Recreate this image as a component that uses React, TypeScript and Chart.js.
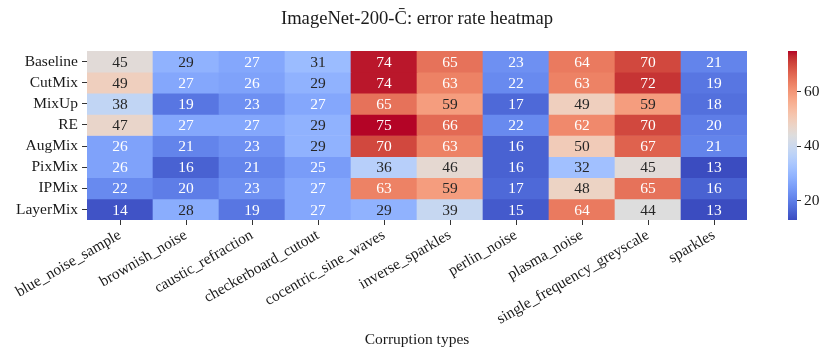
import React, { useEffect, useRef } from 'react';
import { Chart, registerables } from 'chart.js';

Chart.register(...registerables);

const FONT = "'Liberation Serif', 'Times New Roman', serif";

const chartTitle = 'ImageNet-200-C\u0304: error rate heatmap';
const xAxisTitle = 'Corruption types';

const rows = ['Baseline', 'CutMix', 'MixUp', 'RE', 'AugMix', 'PixMix', 'IPMix', 'LayerMix'];
const cols = [
  'blue_noise_sample',
  'brownish_noise',
  'caustic_refraction',
  'checkerboard_cutout',
  'cocentric_sine_waves',
  'inverse_sparkles',
  'perlin_noise',
  'plasma_noise',
  'single_frequency_greyscale',
  'sparkles',
];

const baselineErr = [45, 29, 27, 31, 74, 65, 23, 64, 70, 21];
const cutmixErr = [49, 27, 26, 29, 74, 63, 22, 63, 72, 19];
const mixupErr = [38, 19, 23, 27, 65, 59, 17, 49, 59, 18];
const reErr = [47, 27, 27, 29, 75, 66, 22, 62, 70, 20];
const augmixErr = [26, 21, 23, 29, 70, 63, 16, 50, 67, 21];
const pixmixErr = [26, 16, 21, 25, 36, 46, 16, 32, 45, 13];
const ipmixErr = [22, 20, 23, 27, 63, 59, 17, 48, 65, 16];
const layermixErr = [14, 28, 19, 27, 29, 39, 15, 64, 44, 13];

const values = [baselineErr, cutmixErr, mixupErr, reErr, augmixErr, pixmixErr, ipmixErr, layermixErr];

const colorbarTicks = [20, 40, 60];

// coolwarm colormap control points (33 samples)
const COOLWARM: number[][] = [
  [59, 76, 192], [68, 90, 204], [77, 104, 215], [87, 117, 225], [98, 130, 234],
  [108, 142, 241], [119, 154, 247], [130, 165, 251], [141, 176, 254], [152, 185, 255],
  [163, 194, 255], [174, 201, 253], [184, 208, 249], [194, 213, 244], [204, 217, 238],
  [213, 219, 230], [221, 221, 221], [229, 216, 209], [236, 211, 197], [241, 204, 185],
  [245, 196, 173], [247, 187, 160], [247, 177, 148], [247, 166, 135], [244, 154, 123],
  [241, 141, 111], [236, 127, 99], [229, 112, 88], [222, 96, 77], [213, 80, 66],
  [203, 62, 56], [192, 40, 47], [180, 4, 38],
];

const allVals = values.flat();
const vmin = Math.min(...allVals);
const vmax = Math.max(...allVals);

function cmap(t: number): number[] {
  const tt = Math.max(0, Math.min(1, t)) * (COOLWARM.length - 1);
  const i = Math.min(Math.floor(tt), COOLWARM.length - 2);
  const f = tt - i;
  const a = COOLWARM[i];
  const b = COOLWARM[i + 1];
  return [0, 1, 2].map((k) => a[k] + (b[k] - a[k]) * f);
}

function rgbStr(c: number[]) {
  return `rgb(${Math.round(c[0])},${Math.round(c[1])},${Math.round(c[2])})`;
}

function valueColor(v: number) {
  return cmap((v - vmin) / (vmax - vmin));
}

function luminance(c: number[]) {
  const lin = c.map((x) => {
    const s = x / 255;
    return s <= 0.03928 ? s / 12.92 : Math.pow((s + 0.055) / 1.055, 2.4);
  });
  return 0.2126 * lin[0] + 0.7152 * lin[1] + 0.0722 * lin[2];
}

const TEXT = '#1a1a1a';
const TICK = '#333333';

const annotPlugin = {
  id: 'cellAnnot',
  afterDatasetsDraw(chart: any) {
    const { ctx, scales } = chart;
    const x = scales.x;
    const y = scales.y;
    ctx.save();
    ctx.font = `15.5px ${FONT}`;
    ctx.textAlign = 'center';
    ctx.textBaseline = 'middle';
    values.forEach((row, i) => {
      row.forEach((v, j) => {
        const c = valueColor(v);
        ctx.fillStyle = luminance(c) > 0.408 ? '#262626' : '#ffffff';
        ctx.fillText(String(v), x.getPixelForValue(j), y.getPixelForValue(i + 0.5) + 1);
      });
    });
    ctx.restore();
  },
};

export default function App() {
  const mainRef = useRef<HTMLCanvasElement>(null);
  const cbRef = useRef<HTMLCanvasElement>(null);

  useEffect(() => {
    Chart.defaults.font.family = FONT;
    const datasets = rows.map((r, i) => ({
      label: r,
      data: values[i].map(() => [i, i + 1]),
      backgroundColor: values[i].map((v) => rgbStr(valueColor(v))),
      borderWidth: 0,
      barPercentage: 1,
      categoryPercentage: 1,
      grouped: false,
      yAxisID: 'y',
    }));

    const main = new Chart(mainRef.current!, {
      type: 'bar',
      data: { labels: cols, datasets: datasets as any },
      plugins: [annotPlugin],
      options: {
        responsive: false,
        animation: false,
        layout: { padding: { left: 3, right: 0, top: 0, bottom: 0 } },
        plugins: {
          legend: { display: false },
          tooltip: { enabled: false },
          title: {
            display: true,
            text: chartTitle,
            color: TEXT,
            font: { size: 18.6, weight: 'normal', family: FONT },
            padding: { top: 7.8, bottom: 20.9 },
          },
        },
        scales: {
          x: {
            type: 'category',
            offset: true,
            grid: { display: true, drawOnChartArea: false, offset: false, tickLength: 5, tickColor: TICK, color: TICK },
            border: { display: false },
            ticks: {
              autoSkip: false,
              maxRotation: 30,
              minRotation: 30,
              padding: 1,
              color: TEXT,
              font: { size: 15.5, family: FONT },
            },
            title: {
              display: true,
              text: xAxisTitle,
              color: TEXT,
              font: { size: 15.5, family: FONT },
              padding: { top: 0, bottom: 8.7 },
            },
            afterFit: (s: any) => {
              s.height = 138;
            },
          },
          y: {
            type: 'linear',
            min: 0,
            max: rows.length,
            reverse: true,
            afterBuildTicks: (s: any) => {
              s.ticks = rows.map((_, i) => ({ value: i + 0.5 }));
            },
            grid: { display: true, drawOnChartArea: false, tickLength: 5, tickColor: TICK, color: TICK },
            border: { display: false },
            ticks: {
              autoSkip: false,
              padding: 4,
              color: TEXT,
              font: { size: 15.5, family: FONT },
              callback: (v: any) => rows[Math.round(Number(v) - 0.5)],
            },
            afterFit: (s: any) => {
              s.width = 84;
            },
          },
          yRight: {
            type: 'linear',
            position: 'right',
            display: true,
            grid: { display: false },
            border: { display: false },
            ticks: { display: false },
            afterFit: (s: any) => {
              s.width = 84;
            },
          },
        },
      } as any,
    });

    const cb = new Chart(cbRef.current!, {
      type: 'bar',
      data: {
        labels: [''],
        datasets: [
          {
            data: [[vmin, vmax]] as any,
            borderWidth: 0,
            barPercentage: 1,
            categoryPercentage: 1,
            backgroundColor: (ctx: any) => {
              const ch = ctx.chart;
              const a = ch.chartArea;
              if (!a) return 'rgb(221,221,221)';
              const g = ch.ctx.createLinearGradient(0, a.bottom, 0, a.top);
              COOLWARM.forEach((c, k) => g.addColorStop(k / (COOLWARM.length - 1), rgbStr(c)));
              return g;
            },
          },
        ],
      },
      options: {
        responsive: false,
        animation: false,
        layout: { padding: { left: 28, right: 0, top: 51, bottom: 138 } },
        plugins: { legend: { display: false }, tooltip: { enabled: false }, title: { display: false } },
        scales: {
          x: { display: false },
          y: {
            type: 'linear',
            position: 'right',
            min: vmin,
            max: vmax,
            afterBuildTicks: (s: any) => {
              s.ticks = colorbarTicks.map((v) => ({ value: v }));
            },
            grid: { display: true, drawOnChartArea: false, tickLength: 4, tickColor: TICK, color: TICK },
            border: { display: false },
            ticks: { padding: 3, color: TEXT, font: { size: 15.5, family: FONT } },
            afterFit: (s: any) => {
              s.width = 34;
            },
          },
        },
      } as any,
    });

    return () => {
      main.destroy();
      cb.destroy();
    };
  }, []);

  return (
    <div style={{ position: 'absolute', left: 0, top: 0, width: 831, height: 358, background: '#fff' }}>
      <canvas
        ref={mainRef}
        width={831}
        height={358}
        style={{ position: 'absolute', left: 0, top: 0, width: 831, height: 358, display: 'block' }}
      />
      <canvas
        ref={cbRef}
        width={71}
        height={358}
        style={{ position: 'absolute', left: 760, top: 0, width: 71, height: 358, display: 'block' }}
      />
    </div>
  );
}
